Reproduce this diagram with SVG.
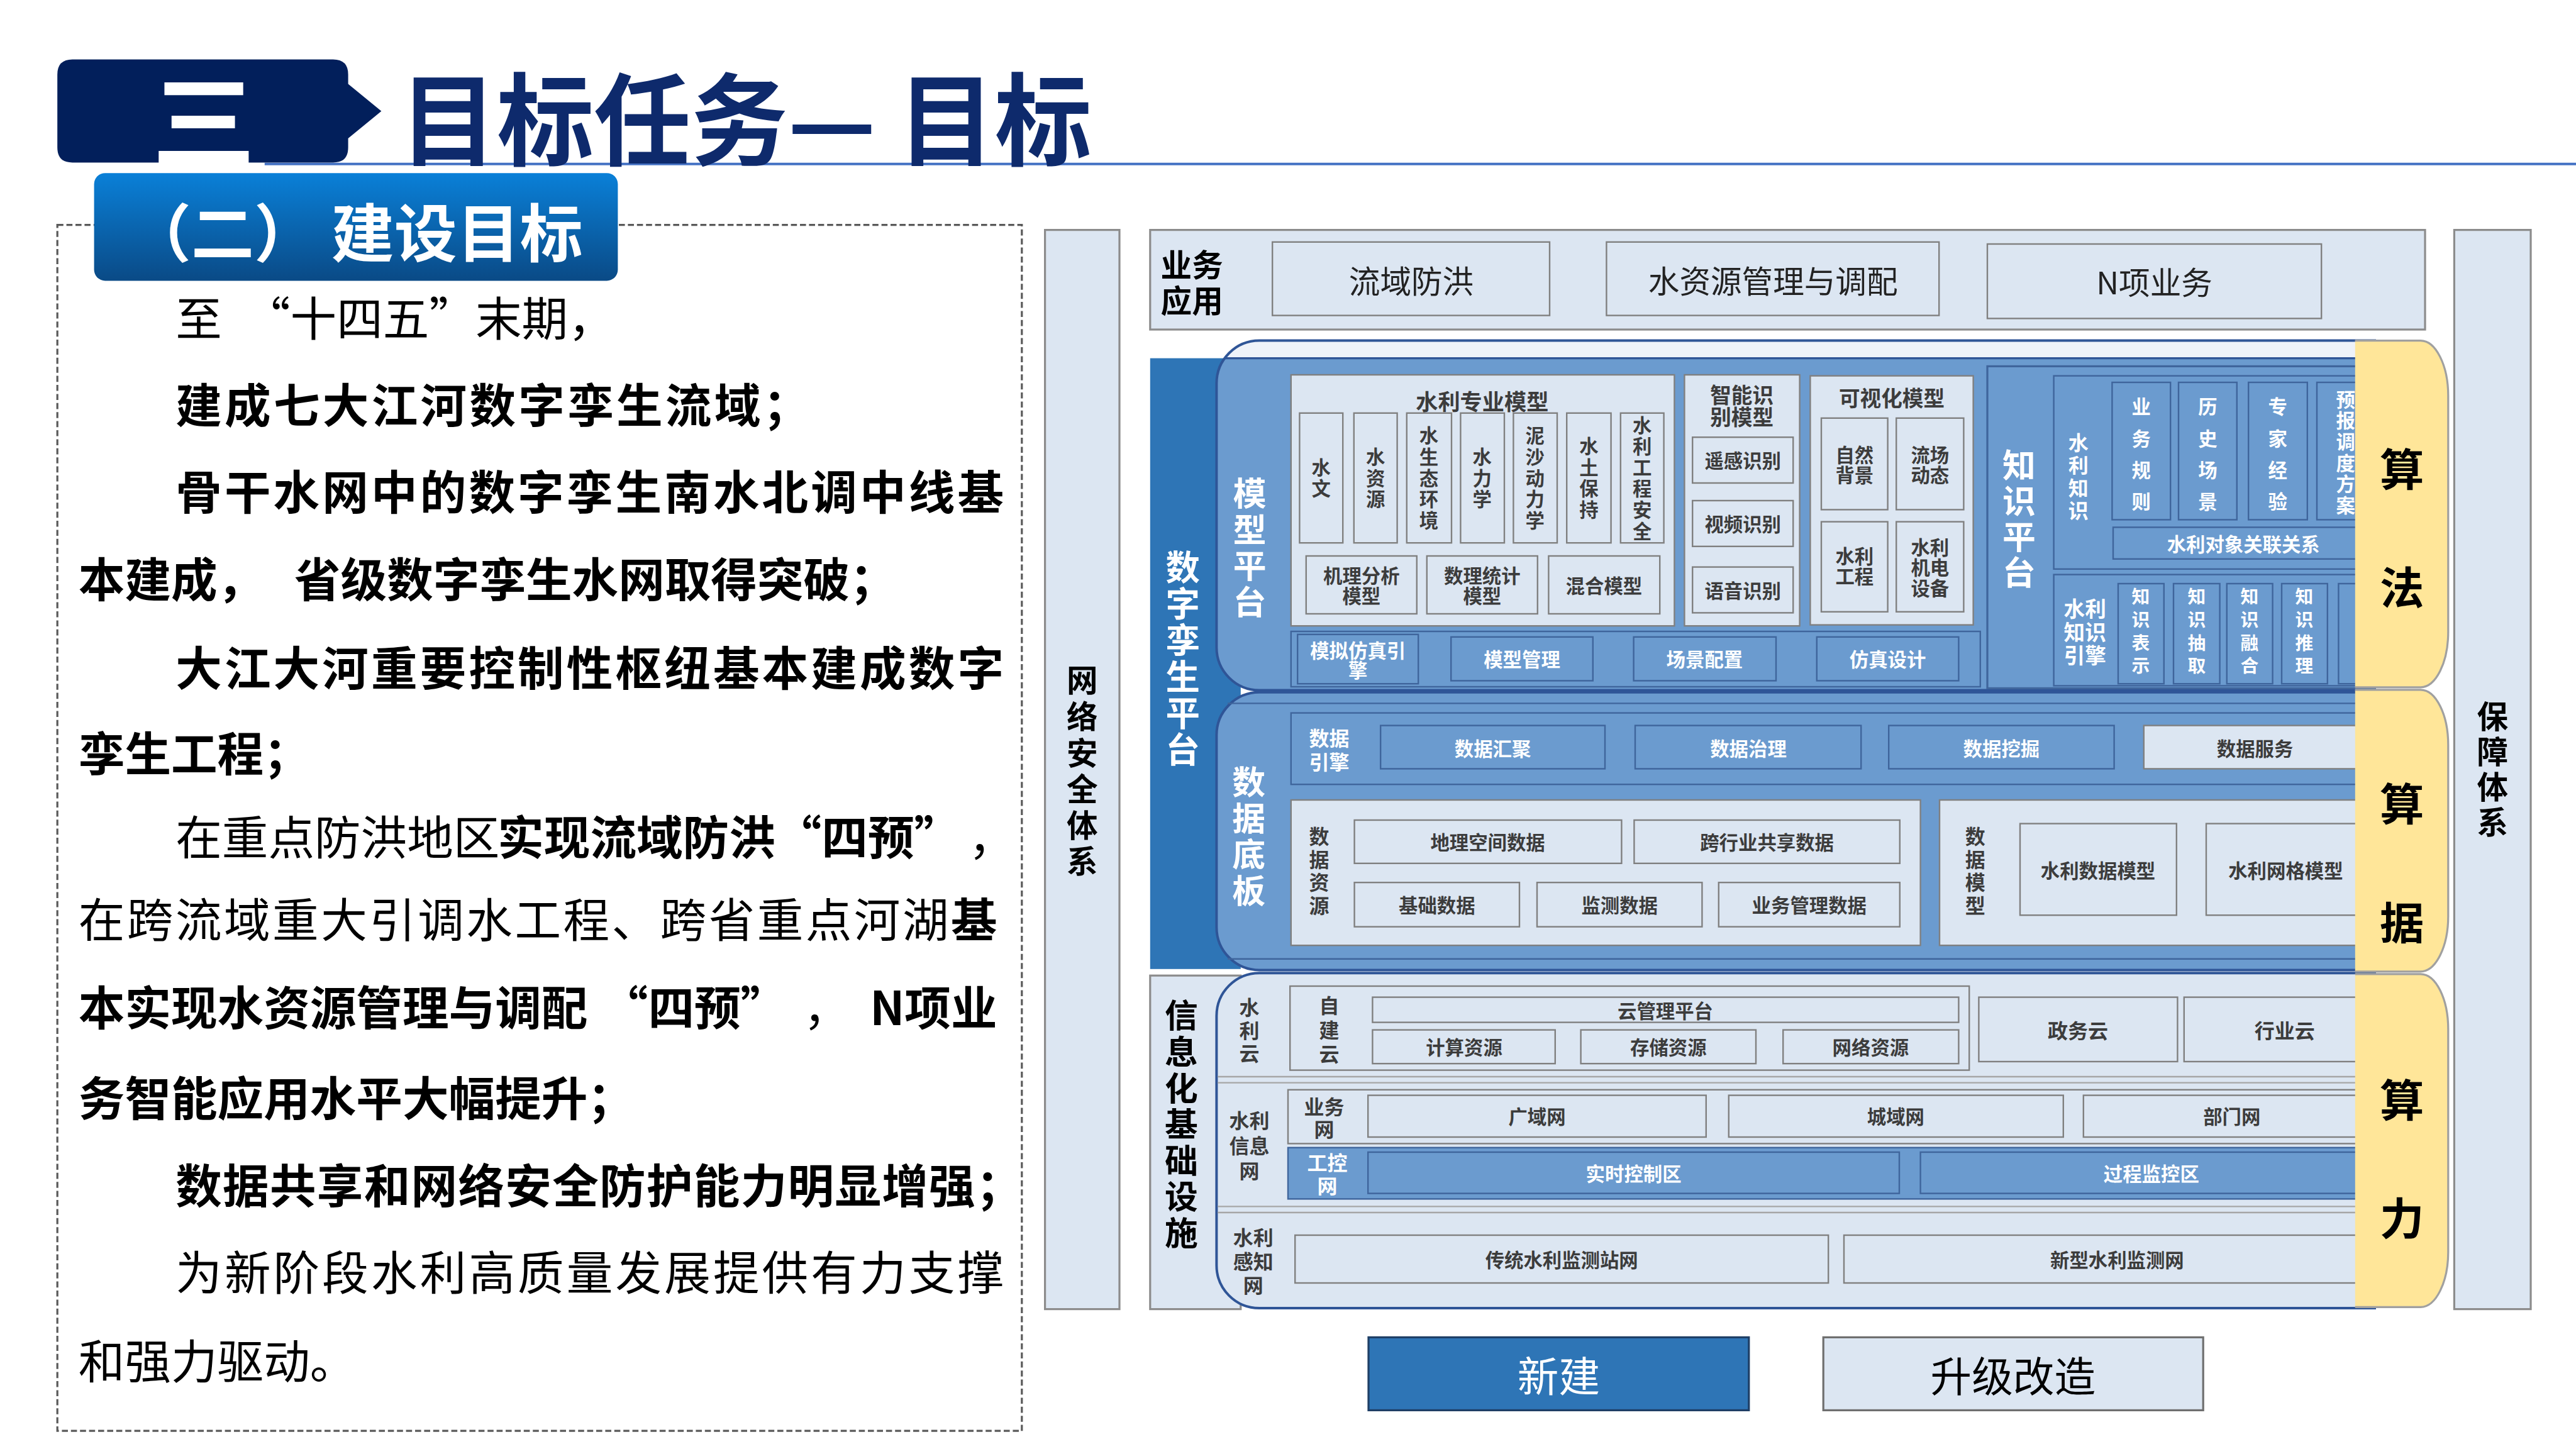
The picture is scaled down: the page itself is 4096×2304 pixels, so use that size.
<svg xmlns="http://www.w3.org/2000/svg" width="4096" height="2304" viewBox="0 0 4096 2304">
<defs>
<style>
text{font-family:"Noto Sans CJK SC","Noto Sans CJK JP",sans-serif;}
.c{text-anchor:middle;dominant-baseline:central;}
.t{dominant-baseline:central;}
.v{writing-mode:vertical-rl;text-anchor:middle;}
.b{font-weight:700;}
.w{fill:#fff;}
.k{fill:#000;}
.g{fill:#3c3c3c;}
.lt{fill:#dce6f2;stroke:#808080;stroke-width:3;}
.bl{fill:#6b9bcf;stroke:#3f659c;stroke-width:3;}
.col{fill:#dce6f2;stroke:#8c8c8c;stroke-width:4;}
.yl{fill:#ffe699;}
.ys{fill:none;stroke:#a0a0a0;stroke-width:4;}
.pn{stroke:#2f5597;stroke-width:5;}
.sep{stroke:#a6a6a6;stroke-width:3;fill:none;}
.p{font-size:92px;}
.s38{font-size:38px;}
.s40{font-size:40px;}
.s42{font-size:42px;}
.s62{font-size:62px;}
.s66{font-size:66px;}
</style>
<linearGradient id="sub" x1="0" y1="0" x2="0" y2="1"><stop offset="0" stop-color="#0a80d8"/><stop offset="1" stop-color="#0a4a86"/></linearGradient>
</defs>
<rect width="4096" height="2304" fill="#fff"/>
<g transform="scale(0.8)">

<g id="header">
<line x1="526" y1="326" x2="5120" y2="326" stroke="#4472c4" stroke-width="5"/>
<path d="M144,118 H662 Q692,118 692,148 V167 L758,221 L692,275 V293 Q692,323 662,323 H144 Q114,323 114,293 V148 Q114,118 144,118 Z" fill="#021f5b"/>
<text x="405" y="229" class="c b w" font-size="205">三</text>
<text x="795" y="226" class="t b" font-size="200" fill="#0e2a6c" textLength="1375" lengthAdjust="spacingAndGlyphs">目标任务— 目标</text>
</g>

<g id="goals-panel">
<rect x="114" y="447" width="1917" height="2397" fill="none" stroke="#5a5a5a" stroke-width="4" stroke-dasharray="12 6"/>
<rect x="187" y="344" width="1041" height="214" rx="22" fill="url(#sub)"/>
<text x="255" y="455" class="t b w" font-size="125">（二） 建设目标</text>
<g class="p k">
<text y="627" class="t"><tspan x="349">至</tspan><tspan x="485">“十四五”末期，</tspan></text>
<text x="349" y="800" class="t b" textLength="1260">建成七大江河数字孪生流域；</text>
<text x="349" y="973" class="t b" textLength="1646">骨干水网中的数字孪生南水北调中线基</text>
<text y="1146" class="t b"><tspan x="156">本建成，</tspan><tspan x="585">省级数字孪生水网取得突破；</tspan></text>
<text x="349" y="1322" class="t b" textLength="1646">大江大河重要控制性枢纽基本建成数字</text>
<text x="156" y="1492" class="t b">孪生工程；</text>
<text y="1659" class="t"><tspan x="349">在重点防洪地区</tspan><tspan x="989" font-weight="700">实现流域防洪“四预”</tspan><tspan x="1925">，</tspan></text>
<text x="156" y="1822" class="t" textLength="1826">在跨流域重大引调水工程、跨省重点河湖<tspan font-weight="700">基</tspan></text>
<text y="1998" class="t b"><tspan x="156">本实现水资源管理与调配</tspan><tspan x="1196">“四预”</tspan><tspan x="1597" font-weight="400">，</tspan><tspan x="1729">N项业</tspan></text>
<text x="156" y="2178" class="t b">务智能应用水平大幅提升；</text>
<text x="349" y="2351" class="t b" textLength="1683">数据共享和网络安全防护能力明显增强；</text>
<text x="349" y="2524" class="t" textLength="1646">为新阶段水利高质量发展提供有力支撑</text>
<text x="156" y="2700" class="t">和强力驱动。</text>
</g>
</g>

<g id="network-security">
<rect x="2077" y="457" width="148" height="2145" class="col"/>
<text x="2151" y="1537" class="v b k s62" letter-spacing="10">网络安全体系</text>
</g>

<g id="guarantee-system">
<rect x="4878" y="457" width="152" height="2145" class="col"/>
<text x="4954" y="1533" class="v b k s62" letter-spacing="8">保障体系</text>
</g>

<g id="business-apps">
<rect x="2286" y="457" width="2534" height="198" class="col"/>
<text class="c b k s62"><tspan x="2369" y="522">业务</tspan><tspan x="2369" y="594">应用</tspan></text>
<rect x="2529" y="481" width="551" height="146" class="lt"/>
<text x="2805" y="555" class="c s62" fill="#222">流域防洪</text>
<rect x="3193" y="481" width="661" height="146" class="lt"/>
<text x="3524" y="555" class="c s62" fill="#222">水资源管理与调配</text>
<rect x="3950" y="485" width="664" height="148" class="lt"/>
<text x="4282" y="558" class="c s62" fill="#222">N项业务</text>
</g>

<g id="twin-platform-column">
<rect x="2286" y="712" width="180" height="1214" fill="#2e75b6"/>
<text x="2351" y="1310" class="v b w" font-size="68" letter-spacing="4.4">数字孪生平台</text>
</g>

<g id="infra-column">
<rect x="2286" y="1939" width="180" height="663" class="col"/>
<text x="2348" y="2237" class="v b k s66" letter-spacing="6">信息化基础设施</text>
</g>

<g id="model-knowledge-layer">
<path d="M2503,677 H4720 V1372 H2503 A85,85 0 0 1 2418,1287 V762 A85,85 0 0 1 2503,677 Z" fill="#6b9bcf"/>
<path d="M2503,677 H4720 V712 H2434 A85,85 0 0 1 2503,677 Z" fill="#eef2f9"/>
<line x1="2434" y1="712" x2="4720" y2="712" stroke="#2f5597" stroke-width="4"/>
<path d="M2503,677 H4720 V1372 H2503 A85,85 0 0 1 2418,1287 V762 A85,85 0 0 1 2503,677 Z" fill="none" class="pn"/>
</g>

<g id="model-platform">
<text x="2484" y="1091" class="v b w s66" letter-spacing="6">模型平台</text>
<g id="wr-models">
<rect x="2566" y="745" width="762" height="499" class="lt"/>
<text x="2946" y="795" class="c b g" font-size="44">水利专业模型</text>
<rect x="2583" y="821" width="86" height="258" class="lt"/>
<rect x="2691" y="821" width="86" height="258" class="lt"/>
<rect x="2796" y="821" width="89" height="258" class="lt"/>
<rect x="2903" y="821" width="87" height="258" class="lt"/>
<rect x="3008" y="821" width="87" height="258" class="lt"/>
<rect x="3114" y="821" width="88" height="258" class="lt"/>
<rect x="3221" y="821" width="86" height="258" class="lt"/>
<g class="v b g s38" letter-spacing="4">
<text x="2626" y="952">水文</text>
<text x="2734" y="952">水资源</text>
<text x="2840" y="952">水生态环境</text>
<text x="2946" y="952">水力学</text>
<text x="3051" y="952">泥沙动力学</text>
<text x="3158" y="952">水土保持</text>
<text x="3264" y="952">水利工程安全</text>
</g>
<rect x="2596" y="1105" width="220" height="115" class="lt"/>
<rect x="2836" y="1105" width="220" height="115" class="lt"/>
<rect x="3078" y="1105" width="221" height="115" class="lt"/>
<g class="c b g s38">
<text><tspan x="2706" y="1142">机理分析</tspan><tspan x="2706" y="1182">模型</tspan></text>
<text><tspan x="2946" y="1142">数理统计</tspan><tspan x="2946" y="1182">模型</tspan></text>
<text x="3188" y="1162">混合模型</text>
</g>
</g>
<g id="ai-recognition">
<rect x="3348" y="745" width="229" height="499" class="lt"/>
<text class="c b g s42"><tspan x="3462" y="782">智能识</tspan><tspan x="3462" y="826">别模型</tspan></text>
<rect x="3364" y="869" width="200" height="91" class="lt"/>
<rect x="3364" y="995" width="200" height="91" class="lt"/>
<rect x="3364" y="1127" width="200" height="91" class="lt"/>
<g class="c b g s38">
<text x="3464" y="914">遥感识别</text>
<text x="3464" y="1040">视频识别</text>
<text x="3464" y="1172">语音识别</text>
</g>
</g>
<g id="visual-models">
<rect x="3598" y="747" width="324" height="495" class="lt"/>
<text x="3760" y="789" class="c b g s42">可视化模型</text>
<rect x="3620" y="831" width="132" height="182" class="lt"/>
<rect x="3769" y="831" width="134" height="182" class="lt"/>
<rect x="3620" y="1037" width="132" height="179" class="lt"/>
<rect x="3769" y="1037" width="134" height="179" class="lt"/>
<g class="c b g s38">
<text><tspan x="3686" y="903">自然</tspan><tspan x="3686" y="943">背景</tspan></text>
<text><tspan x="3836" y="903">流场</tspan><tspan x="3836" y="943">动态</tspan></text>
<text><tspan x="3686" y="1104">水利</tspan><tspan x="3686" y="1144">工程</tspan></text>
<text><tspan x="3836" y="1086">水利</tspan><tspan x="3836" y="1126">机电</tspan><tspan x="3836" y="1167">设备</tspan></text>
</g>
</g>
<g id="sim-engine">
<rect x="2566" y="1255" width="1370" height="110" class="bl"/>
<rect x="2579" y="1261" width="240" height="98" class="bl"/>
<rect x="2884" y="1266" width="282" height="87" class="bl"/>
<rect x="3247" y="1266" width="283" height="87" class="bl"/>
<rect x="3611" y="1266" width="282" height="87" class="bl"/>
<g class="c b w s38">
<text><tspan x="2699" y="1291">模拟仿真引</tspan><tspan x="2699" y="1330">擎</tspan></text>
<text x="3025" y="1309">模型管理</text>
<text x="3388" y="1309">场景配置</text>
<text x="3752" y="1309">仿真设计</text>
</g>
</g>
</g>

<g id="knowledge-platform">
<rect x="3950" y="728" width="770" height="640" fill="none" stroke="#3f659c" stroke-width="4"/>
<text x="4013" y="1033" class="v b w s66" letter-spacing="5">知识平台</text>
<rect x="4082" y="747" width="638" height="384" class="bl"/>
<text x="4131" y="950" class="v b w s40" letter-spacing="5">水利知识</text>
<rect x="4198" y="760" width="116" height="273" class="bl"/>
<rect x="4330" y="760" width="116" height="273" class="bl"/>
<rect x="4469" y="760" width="117" height="273" class="bl"/>
<rect x="4605" y="760" width="117" height="273" class="bl"/>
<g class="v b w s38">
<text x="4256" y="915" letter-spacing="24.7">业务规则</text>
<text x="4388" y="915" letter-spacing="24.7">历史场景</text>
<text x="4527" y="915" letter-spacing="24.7">专家经验</text>
<text x="4662" y="901" letter-spacing="4">预报调度方案</text>
</g>
<rect x="4200" y="1048" width="522" height="63" class="bl"/>
<text x="4459" y="1080" class="c b w s38">水利对象关联关系</text>
<rect x="4082" y="1142" width="638" height="221" class="bl"/>
<text class="c b w s42"><tspan x="4144" y="1207">水利</tspan><tspan x="4144" y="1254">知识</tspan><tspan x="4144" y="1300">引擎</tspan></text>
<rect x="4210" y="1160" width="91" height="199" class="bl"/>
<rect x="4320" y="1160" width="92" height="199" class="bl"/>
<rect x="4426" y="1160" width="91" height="199" class="bl"/>
<rect x="4535" y="1160" width="91" height="199" class="bl"/>
<rect x="4648" y="1160" width="92" height="199" class="bl"/>
<g class="v b w" font-size="36" letter-spacing="10">
<text x="4255" y="1259">知识表示</text>
<text x="4366" y="1259">知识抽取</text>
<text x="4471" y="1259">知识融合</text>
<text x="4580" y="1259">知识推理</text>
</g>
</g>

<g id="data-layer">
<path d="M2503,1376 H4720 V1928 H2503 A85,85 0 0 1 2418,1843 V1461 A85,85 0 0 1 2503,1376 Z" fill="#6b9bcf" class="pn"/>
<line x1="2440" y1="1398" x2="4720" y2="1398" stroke="#3f659c" stroke-width="3"/>
<line x1="2440" y1="1906" x2="4720" y2="1906" stroke="#3f659c" stroke-width="3"/>
<text x="2482" y="1665" class="v b w s66" letter-spacing="6">数据底板</text>
<g id="data-engine">
<rect x="2566" y="1417" width="2154" height="142" class="bl"/>
<text class="c b w s40"><tspan x="2642" y="1465">数据</tspan><tspan x="2642" y="1513">引擎</tspan></text>
<rect x="2744" y="1442" width="446" height="86" class="bl"/>
<rect x="3250" y="1442" width="449" height="86" class="bl"/>
<rect x="3754" y="1442" width="448" height="86" class="bl"/>
<rect x="4261" y="1442" width="459" height="86" class="lt"/>
<g class="c b s38">
<text x="2967" y="1486" class="w">数据汇聚</text>
<text x="3475" y="1486" class="w">数据治理</text>
<text x="3978" y="1486" class="w">数据挖掘</text>
<text x="4482" y="1486" class="g">数据服务</text>
</g>
</g>
<g id="data-resources">
<rect x="2566" y="1590" width="1251" height="289" class="lt"/>
<text x="2622" y="1734" class="v b g s40" letter-spacing="6">数据资源</text>
<rect x="2692" y="1630" width="531" height="86" class="lt"/>
<rect x="3248" y="1630" width="528" height="86" class="lt"/>
<rect x="2692" y="1754" width="328" height="88" class="lt"/>
<rect x="3055" y="1754" width="328" height="88" class="lt"/>
<rect x="3416" y="1754" width="360" height="88" class="lt"/>
<g class="c b g s38">
<text x="2957" y="1673">地理空间数据</text>
<text x="3512" y="1673">跨行业共享数据</text>
<text x="2856" y="1798">基础数据</text>
<text x="3219" y="1798">监测数据</text>
<text x="3596" y="1798">业务管理数据</text>
</g>
</g>
<g id="data-models">
<rect x="3855" y="1590" width="865" height="289" class="lt"/>
<text x="3926" y="1734" class="v b g s40" letter-spacing="6">数据模型</text>
<rect x="4015" y="1637" width="311" height="182" class="lt"/>
<rect x="4385" y="1637" width="335" height="182" class="lt"/>
<text x="4170" y="1729" class="c b g s38">水利数据模型</text>
<text x="4543" y="1729" class="c b g s38">水利网格模型</text>
</g>
</g>

<g id="infra-layer">
<path d="M2503,1934 H4720 V2600 H2503 A85,85 0 0 1 2418,2515 V2019 A85,85 0 0 1 2503,1934 Z" fill="#dce6f2" class="pn"/>
<path d="M2420,2140 H4720 M2420,2152 H4720 M2420,2398 H4720 M2420,2410 H4720" class="sep"/>
<g id="wr-cloud">
<text x="2483" y="2051" class="v b g s40" letter-spacing="6">水利云</text>
<rect x="2564" y="1960" width="1350" height="167" class="lt"/>
<text x="2642" y="2051" class="v b g s40" letter-spacing="8">自建云</text>
<rect x="2728" y="1982" width="1165" height="50" class="lt"/>
<rect x="2728" y="2047" width="363" height="67" class="lt"/>
<rect x="3142" y="2047" width="348" height="67" class="lt"/>
<rect x="3544" y="2047" width="349" height="67" class="lt"/>
<rect x="3933" y="1982" width="395" height="128" class="lt"/>
<rect x="4341" y="1982" width="379" height="128" class="lt"/>
<g class="c b g s38">
<text x="3310" y="2007">云管理平台</text>
<text x="2910" y="2080">计算资源</text>
<text x="3316" y="2080">存储资源</text>
<text x="3718" y="2080">网络资源</text>
</g>
<text x="4130" y="2046" class="c b g s40">政务云</text>
<text x="4541" y="2046" class="c b g s40">行业云</text>
</g>
<g id="wr-info-net">
<text class="c b g s40"><tspan x="2483" y="2225">水利</tspan><tspan x="2483" y="2275">信息</tspan><tspan x="2483" y="2325">网</tspan></text>
<rect x="2560" y="2166" width="2160" height="107" class="lt"/>
<text class="c b g s40"><tspan x="2632" y="2197">业务</tspan><tspan x="2632" y="2242">网</tspan></text>
<rect x="2719" y="2177" width="672" height="83" class="lt"/>
<rect x="3436" y="2177" width="665" height="83" class="lt"/>
<rect x="4141" y="2177" width="579" height="83" class="lt"/>
<g class="c b g s38">
<text x="3055" y="2218">广域网</text>
<text x="3768" y="2218">城域网</text>
<text x="4436" y="2218">部门网</text>
</g>
<rect x="2560" y="2281" width="2160" height="102" class="bl"/>
<text class="c b w s40"><tspan x="2638" y="2309">工控</tspan><tspan x="2638" y="2355">网</tspan></text>
<rect x="2719" y="2290" width="1056" height="82" class="bl"/>
<rect x="3817" y="2290" width="903" height="82" class="bl"/>
<text x="3247" y="2331" class="c b w s38">实时控制区</text>
<text x="4276" y="2331" class="c b w s38">过程监控区</text>
</g>
<g id="wr-sensing-net">
<text class="c b g s40"><tspan x="2491" y="2457">水利</tspan><tspan x="2491" y="2505">感知</tspan><tspan x="2491" y="2553">网</tspan></text>
<rect x="2574" y="2455" width="1060" height="95" class="lt"/>
<rect x="3665" y="2455" width="1055" height="95" class="lt"/>
<text x="3104" y="2503" class="c b g s38">传统水利监测站网</text>
<text x="4208" y="2503" class="c b g s38">新型水利监测网</text>
</g>
</g>

<g id="algorithm-tab">
<path d="M4681,677 H4811 A55,110 0 0 1 4866,787 V1256 A55,110 0 0 1 4811,1366 H4681 Z" class="yl"/>
<path d="M4681,677 H4811 A55,110 0 0 1 4866,787 V1256 A55,110 0 0 1 4811,1366 H4681" class="ys"/>
<text x="4774" y="927" class="c b k" font-size="88">算</text>
<text x="4774" y="1162" class="c b k" font-size="88">法</text>
</g>
<g id="data-tab">
<path d="M4681,1371 H4811 A55,110 0 0 1 4866,1481 V1821 A55,110 0 0 1 4811,1931 H4681 Z" class="yl"/>
<path d="M4681,1371 H4811 A55,110 0 0 1 4866,1481 V1821 A55,110 0 0 1 4811,1931 H4681" class="ys"/>
<text x="4774" y="1593" class="c b k" font-size="88">算</text>
<text x="4774" y="1829" class="c b k" font-size="88">据</text>
</g>
<g id="compute-tab">
<path d="M4681,1936 H4811 A55,110 0 0 1 4866,2046 V2488 A55,110 0 0 1 4811,2598 H4681 Z" class="yl"/>
<path d="M4681,1936 H4811 A55,110 0 0 1 4866,2046 V2488 A55,110 0 0 1 4811,2598 H4681" class="ys"/>
<text x="4774" y="2181" class="c b k" font-size="88">算</text>
<text x="4774" y="2416" class="c b k" font-size="88">力</text>
</g>

<g id="legend">
<g id="legend-new">
<rect x="2720" y="2658" width="756" height="145" fill="#2e75b6" stroke="#1f3f66" stroke-width="4"/>
<text x="3098" y="2731" class="c w" font-size="82">新建</text>
</g>
<g id="legend-upgrade">
<rect x="3624" y="2658" width="755" height="145" fill="#dce6f2" stroke="#6f6f6f" stroke-width="4"/>
<text x="4001" y="2731" class="c k" font-size="82">升级改造</text>
</g>
</g>

</g>
</svg>
